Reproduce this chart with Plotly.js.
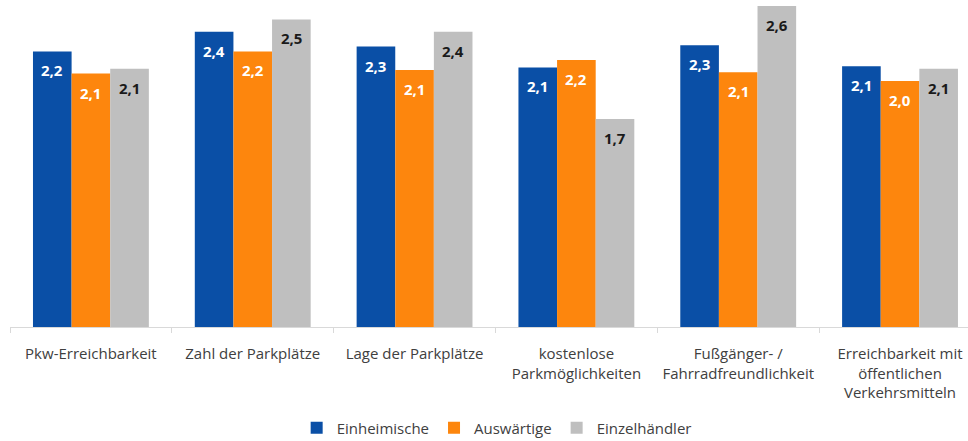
<!DOCTYPE html>
<html>
<head>
<meta charset="utf-8">
<script src="https://cdn.plot.ly/plotly-3.0.1.min.js"></script>
<style>
  html, body { margin: 0; padding: 0; background: #fff; }
  #chart { width: 968px; height: 441px; }
</style>
</head>
<body>
<div id="chart"></div>
<script>
// categories and series (ratings)
const categories = [
  "Pkw-Erreichbarkeit",
  "Zahl der Parkplätze",
  "Lage der Parkplätze",
  "kostenlose<br>Parkmöglichkeiten",
  "Fußgänger- /<br>Fahrradfreundlichkeit",
  "Erreichbarkeit mit<br>öffentlichen<br>Verkehrsmitteln",
];
const einheimische = [2.24, 2.40, 2.28, 2.11, 2.29, 2.12];
const auswaertige = [2.06, 2.24, 2.09, 2.17, 2.07, 2.00];
const einzelhaendler = [2.10, 2.50, 2.40, 1.69, 2.61, 2.10];

const seriesNames = ["Einheimische", "Auswärtige", "Einzelhändler"];
const seriesValues = [einheimische, auswaertige, einzelhaendler];
const colors = ["#0a4fa6", "#fd860d", "#bfbfbf"];
const labelColors = ["#ffffff", "#ffffff", "#1a1a1a"];

const FONT = "Open Sans, Noto Sans, sans-serif";
const BARGAP = 0.284;

// German decimal comma
const fmt = v => v.toFixed(1).replace(".", ",");

const traces = seriesValues.map((vals, i) => ({
  type: "bar",
  name: seriesNames[i],
  x: categories,
  y: vals,
  marker: { color: colors[i], line: { width: 0 } },
  hoverinfo: "skip",
}));

// value labels sit a bit below each bar top
const groupW = (1 - BARGAP) * 161.8;
const annotations = [];
seriesValues.forEach((vals, i) => {
  vals.forEach((v, j) => {
    annotations.push({
      x: categories[j], y: v, xref: "x", yref: "y",
      text: "<b>" + fmt(v) + "</b>",
      showarrow: false,
      xshift: (i - 1) * groupW / 3,
      yshift: -19,
      font: { family: FONT, size: 15, color: labelColors[i] },
    });
  });
});

const layout = {
  barmode: "group",
  bargap: BARGAP,
  bargroupgap: 0,
  width: 968, height: 441,
  margin: { l: 10, r: 0, t: 1, b: 114, autoexpand: false },
  paper_bgcolor: "white",
  plot_bgcolor: "white",
  font: { family: FONT, size: 15, color: "#404040" },
  xaxis: {
    type: "category",
    range: [-0.5, 5.42],
    showline: true,
    linecolor: "#d9d9d9",
    linewidth: 1,
    ticks: "outside",
    tickson: "boundaries",
    ticklen: 5,
    tickcolor: "#d9d9d9",
    tickangle: 0,
    ticklabelstandoff: 13,
    showgrid: false,
    tickfont: { family: FONT, size: 15, color: "#404040" },
  },
  yaxis: {
    range: [0, 2.65],
    showticklabels: false,
    showgrid: false,
    zeroline: false,
    showline: false,
  },
  showlegend: true,
  legend: {
    orientation: "h",
    x: 0.508, xanchor: "center",
    y: -0.31, yanchor: "middle",
    font: { family: FONT, size: 15, color: "#404040" },
    itemwidth: 30,
    traceorder: "normal",
  },
  annotations,
};

Plotly.newPlot("chart", traces, layout, { staticPlot: true });
</script>
</body>
</html>
